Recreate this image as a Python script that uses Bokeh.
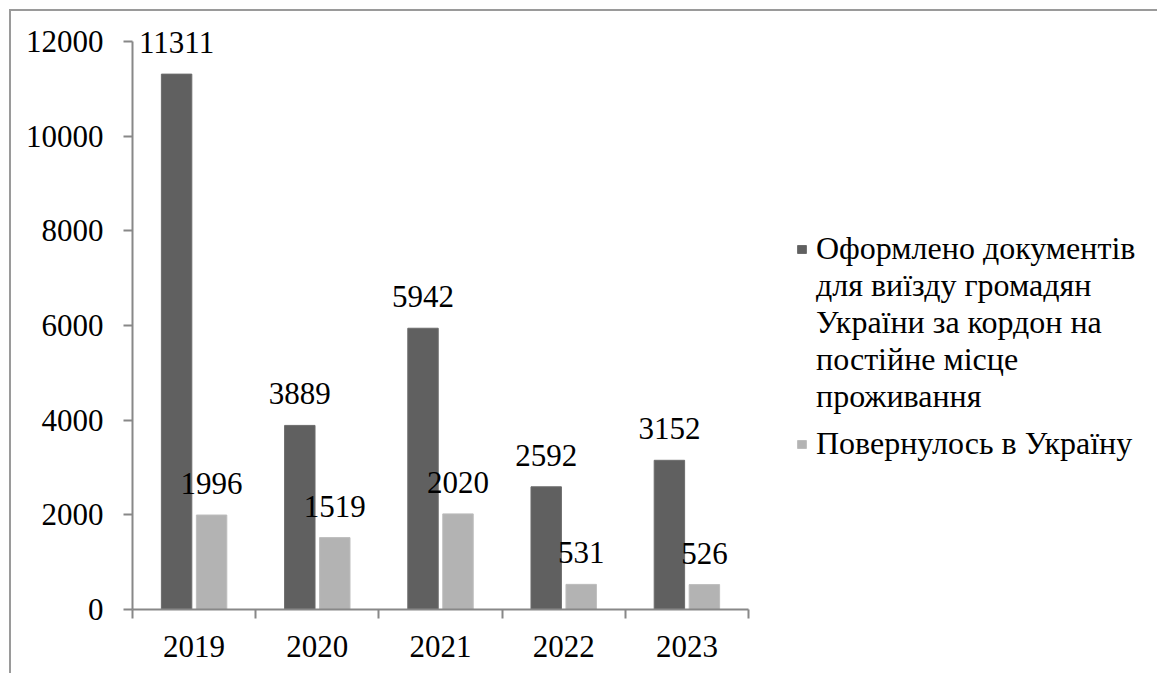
from bokeh.plotting import figure
from bokeh.models import ColumnDataSource, Range1d, FixedTicker, Legend, LegendItem, LabelSet
from bokeh.transform import dodge
from bokeh.embed import file_html
from bokeh.resources import INLINE

years = ["2019", "2020", "2021", "2022", "2023"]
issued = [11311, 3889, 5942, 2592, 3152]
returned = [1996, 1519, 2020, 531, 526]
series_first_line = "Оформлено документів"
series_rest = "для виїзду громадян\nУкраїни за кордон на\nпостійне місце\nпроживання"
series2_name = "Повернулось в Україну"
y_ticks = [0, 2000, 4000, 6000, 8000, 10000, 12000]
y_max = 12000

FONT = "'Liberation Serif', 'Times New Roman', serif"
FS = "31px"
LEG_FS = "32px"
AXIS_COLOR = "#888888"
DARK = "#606060"
LIGHT = "#b3b3b3"

# layout (pixels)
W, H = 1148, 664
LEFT, BOTTOM = 121, 66
FRAME_W, FRAME_H = W - LEFT, H - BOTTOM
AXIS_W, AXIS_H = 616, 568          # pixel extent of the drawn axes

n = len(years)
pos = [i + 0.5 for i in range(n)]
src = ColumnDataSource(dict(
    x=pos, year=years, issued=issued, returned=returned,
    issued_lbl=[str(v) for v in issued],
    returned_lbl=[str(v) for v in returned],
))

p = figure(width=W, height=H,
           x_range=Range1d(0, n * FRAME_W / AXIS_W),
           y_range=Range1d(0, y_max * FRAME_H / AXIS_H),
           output_backend="svg", toolbar_location=None,
           min_border_left=LEFT, min_border_right=0,
           min_border_top=0, min_border_bottom=BOTTOM)
p.styles = {"margin-left": "9px", "margin-top": "9px",
            "border-top": "2px solid #9a9a9a", "border-left": "2px solid #9a9a9a"}
p.outline_line_color = None
p.xgrid.visible = False
p.ygrid.visible = False

off = 0.142
bw = 0.247
r1 = p.vbar(x=dodge("x", -off, range=p.x_range), top="issued", width=bw, bottom=0,
            source=src, fill_color=DARK, line_color="#6c6c6c", line_width=1)
r2 = p.vbar(x=dodge("x", off, range=p.x_range), top="returned", width=bw, bottom=0,
            source=src, fill_color=LIGHT, line_color="#bdbdbd", line_width=1)
# invisible renderer used only to indent continuation lines of the legend
r_blank = p.vbar(x=[], top=[], width=bw, fill_alpha=0, line_alpha=0)

for field, lbl, o in (("issued", "issued_lbl", -off), ("returned", "returned_lbl", off)):
    ls = LabelSet(x=dodge("x", o, range=p.x_range), y=field, text=lbl, source=src,
                  text_align="center", text_baseline="alphabetic", y_offset=21,
                  text_font=FONT, text_font_size=FS, text_color="black")
    p.add_layout(ls)

# y axis
ya = p.yaxis[0]
ya.bounds = (0, y_max)
ya.ticker = FixedTicker(ticks=y_ticks, minor_ticks=[])
ya.axis_line_color = AXIS_COLOR
ya.axis_line_width = 2
ya.major_tick_line_color = AXIS_COLOR
ya.major_tick_line_width = 2
ya.major_tick_out = 9
ya.major_tick_in = 0
ya.minor_tick_line_color = None
ya.major_label_standoff = 20
ya.major_label_text_font = FONT
ya.major_label_text_font_size = FS
ya.major_label_text_color = "black"

# x axis
xa = p.xaxis[0]
xa.bounds = (0, n)
xa.ticker = FixedTicker(ticks=pos, minor_ticks=list(range(n + 1)))
xa.major_label_overrides = {x: y for x, y in zip(pos, years)}
xa.axis_line_color = AXIS_COLOR
xa.axis_line_width = 2
xa.major_tick_line_color = None
xa.major_tick_out = 9
xa.major_tick_in = 0
xa.minor_tick_line_color = AXIS_COLOR
xa.minor_tick_line_width = 2
xa.minor_tick_out = 9
xa.minor_tick_in = 0
xa.major_label_standoff = 17
xa.major_label_text_font = FONT
xa.major_label_text_font_size = FS
xa.major_label_text_color = "black"

legend_style = dict(padding=0, margin=0, spacing=0,
                    glyph_width=11, glyph_height=10, label_standoff=9,
                    border_line_color=None, background_fill_alpha=0,
                    label_text_font=FONT, label_text_font_size=LEG_FS,
                    label_text_line_height=1.085, label_text_color="black")
legend_a = Legend(items=[LegendItem(label=series_first_line, renderers=[r1]),
                         LegendItem(label=series_rest, renderers=[r_blank])],
                  location=(664, 194), **legend_style)
legend_b = Legend(items=[LegendItem(label=series2_name, renderers=[r2])],
                  location=(664, 147), **legend_style)
p.add_layout(legend_a)
p.add_layout(legend_b)

open("out.html", "w").write(file_html(p, INLINE))
